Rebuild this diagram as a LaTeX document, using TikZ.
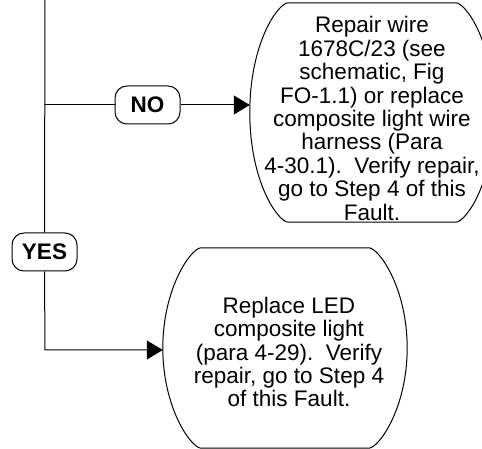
\documentclass[tikz,border=0pt]{standalone}
\usepackage{fontspec}
\setmainfont{Liberation Sans}
\usetikzlibrary{arrows.meta,calc}
\newcommand\bulgeoutline[2]{%
  \draw[outline] ([xshift=38pt]#1.north west) -- ([xshift=-38pt]#1.north east)
   .. controls +(10pt,-1pt) and +(0pt,#2) .. (#1.east)
   .. controls +(0pt,-#2) and +(10pt,1pt) .. ([xshift=-38pt]#1.south east)
   -- ([xshift=38pt]#1.south west)
   .. controls +(-10pt,1pt) and +(0pt,-#2) .. (#1.west)
   .. controls +(0pt,#2) and +(-10pt,-1pt) .. cycle;}
\tikzset{
  outline/.style={draw=black, line width=1pt},
  shapebox/.style={inner sep=0pt, minimum width=244pt},
  txt/.style={align=center, inner sep=0pt, font=\fontsize{22.5}{23.4}\selectfont},
  answer/.style={draw=black, line width=1pt, rounded corners=12pt, minimum width=65pt,
    minimum height=38pt, inner sep=0pt, font=\bfseries\fontsize{22.5}{24}\selectfont},
  conn/.style={draw=black, line width=1pt},
  tip/.style={-{Triangle[length=16pt,width=19pt]}}
}
\begin{document}
\begin{tikzpicture}[x=1pt,y=1pt]
\useasboundingbox (0,0) rectangle (482,449);
\clip (0,0) rectangle (482,449);
\fill[white] (0,0) rectangle (482,449);
\node[shapebox, minimum height=219pt] (up) at (372,336.5) {};
\bulgeoutline{up}{69.5pt}
\node[txt] (uptext) at ([yshift=-6pt]up.center) {Repair wire\\1678C/23 (see\\schematic, Fig\\FO-1.1) or replace\\composite light wire\\harness (Para\\4-30.1).\ \ Verify repair,\\go to Step 4 of this\\Fault.};
\node[shapebox, minimum height=200pt] (low) at (285,101) {};
\bulgeoutline{low}{60pt}
\node[txt] (lowtext) at ([xshift=4pt,yshift=-4pt]low.center) {Replace LED\\composite light\\(para 4-29).\ \ Verify\\repair, go to Step 4\\of this Fault.};
\node[answer] (no) at (147.5,344) {NO};
\node[answer] (yes) at (44.5,197) {YES};
\coordinate (top) at (45,449);
\coordinate (split) at (45,344);
\coordinate (bend) at (45,99);
\draw[conn] (top) -- (yes.north);
\draw[conn] (split) -- (no.west);
\draw[conn,tip] (no.east) -- (no.east -| up.west);
\draw[conn,tip] (yes.south) -- (bend) -- (bend -| low.west);
\end{tikzpicture}
\end{document}
